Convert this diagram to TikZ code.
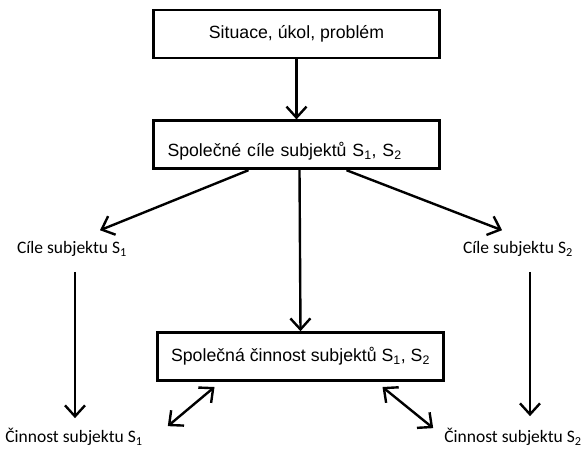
\documentclass[tikz,border=0pt]{standalone}
\usepackage{fontspec}
\setmainfont{Liberation Sans}
\newfontfamily\calibri{Carlito}
\usetikzlibrary{arrows.meta,positioning}

\begin{document}
\begin{tikzpicture}[
  x=1pt, y=-1pt,
  box/.style={rectangle, draw, line width=2.8pt, minimum width=286pt, minimum height=48pt, font=\fontsize{17.7}{20}\selectfont},
  arrow/.style={-{Straight Barb[length=11pt,width=20pt,line width=2.4pt]}, line width=2.4pt},
  twoway/.style={{Straight Barb[length=11pt,width=20pt,line width=2.4pt]}-{Straight Barb[length=11pt,width=20pt,line width=2.4pt]}, line width=2.4pt},
  subj/.style={font=\calibri\fontsize{17.5}{20}\selectfont, inner sep=1pt}
]
\useasboundingbox (0,0) rectangle (582,448);
\node[box] (situace) at (296.5,34) {Situace, úkol, problém};
\node[box, text width=258pt, align=left, inner xsep=14pt, text height=25pt, text depth=1pt, inner ysep=11pt, below=60pt of situace] (cile) {Společné cíle subjektů S\textsubscript{1}, S\textsubscript{2}};
\node[box, below=161pt of cile, xshift=4pt] (cinnost) {Společná činnost subjektů S\textsubscript{1}, S\textsubscript{2}};
\node[subj] (c1) at (72,249) {Cíle subjektu S\textsubscript{1}};
\node[subj] (c2) at (518,249) {Cíle subjektu S\textsubscript{2}};
\node[subj] (a1) at (74,437) {Činnost subjektu S\textsubscript{1}};
\node[subj] (a2) at (513,437) {Činnost subjektu S\textsubscript{2}};
\draw[arrow] (situace) -- (cile);
\draw[arrow] ([xshift=-48pt]cile.south) -- ([xshift=28pt,yshift=10pt]c1.north);
\draw[arrow] ([xshift=50pt]cile.south) -- ([xshift=-16pt,yshift=10pt]c2.north);
\draw[arrow] ([xshift=3pt]cile.south) -- (cinnost.north);
\draw[arrow] ([xshift=3pt,yshift=-14pt]c1.south) -- ([xshift=1pt,yshift=9pt]a1.north);
\draw[arrow] ([xshift=12pt,yshift=-14pt]c2.south) -- ([xshift=17pt,yshift=11pt]a2.north);
\draw[twoway] ([xshift=-86pt,yshift=-5pt]cinnost.south) -- ([xshift=24pt,yshift=1pt]a1.north east);
\draw[twoway] ([xshift=82pt,yshift=-5pt]cinnost.south) -- ([xshift=-10pt,yshift=-1pt]a2.north west);
\end{tikzpicture}
\end{document}
